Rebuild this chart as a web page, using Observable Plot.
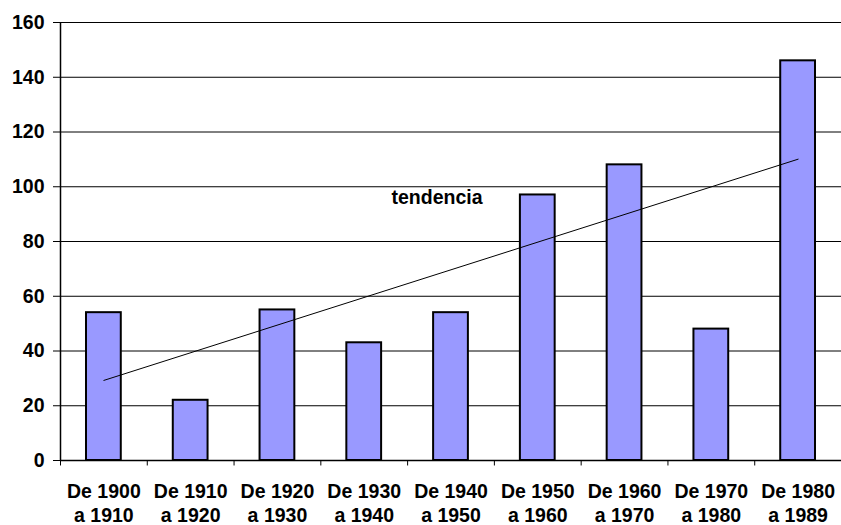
<!DOCTYPE html>
<html>
<head>
<meta charset="utf-8">
<script src="https://cdn.jsdelivr.net/npm/d3@7"></script>
<script src="https://cdn.jsdelivr.net/npm/@observablehq/plot@0.6"></script>
<style>
  body { margin: 0; background: #fff; }
  svg { display: block; }
</style>
</head>
<body>
<div id="chart"></div>
<script>
const categories = [
  "De 1900\na 1910", "De 1910\na 1920", "De 1920\na 1930",
  "De 1930\na 1940", "De 1940\na 1950", "De 1950\na 1960",
  "De 1960\na 1970", "De 1970\na 1980", "De 1980\na 1989"
];
const values = [54, 22, 55, 43, 54, 97, 108, 48, 146];
const yTicks = [0, 20, 40, 60, 80, 100, 120, 140, 160];
const trendLabel = "tendencia";

const data = categories.map((c, i) => ({cat: c, v: values[i]}));

// linear trend (least squares) over category index
const idx = values.map((_, i) => i + 1);
const mx = d3.mean(idx), my = d3.mean(values);
const slope = d3.sum(idx, (x, i) => (x - mx) * (values[i] - my)) / d3.sum(idx, x => (x - mx) ** 2);
const intercept = my - slope * mx;
const trend = [
  {cat: categories[0], v: intercept + slope * 1},
  {cat: categories[categories.length - 1], v: intercept + slope * categories.length}
];

const W = 841, H = 525, ML = 60, MR = 0;
const step = (W - ML - MR) / categories.length;

const chart = Plot.plot({
  width: W,
  height: H,
  marginLeft: ML,
  marginRight: MR,
  marginTop: 22,
  marginBottom: 65,
  style: {fontFamily: "'Liberation Sans', Arial, sans-serif", fontWeight: "bold", fontSize: "19px", color: "#000", background: "#fff"},
  x: {domain: categories, padding: 0, round: false, label: null},
  y: {domain: [0, 160], ticks: yTicks, label: null},
  marks: [
    Plot.ruleY(yTicks.filter(t => t > 0), {stroke: "#000", strokeWidth: 1}),
    Plot.barY(data, {x: "cat", y: "v", fill: "#9999ff", stroke: "#000", strokeWidth: 2, insetLeft: 26, insetRight: 26}),
    Plot.line(trend, {x: "cat", y: "v", stroke: "#000", strokeWidth: 1}),
    Plot.text([trendLabel], {x: () => categories[4], y: () => 95.9, text: d => d, dx: -14, fontSize: 19.5, fontWeight: "bold", fill: "#000"}),
    Plot.ruleY([0], {stroke: "#000", strokeWidth: 1.5}),
    Plot.ruleX([categories[0]], {dx: -step / 2, y1: 0, y2: 160, stroke: "#000", strokeWidth: 1.5}),
    Plot.ruleX(categories, {dx: -step / 2, y1: 0, y2: -2, stroke: "#000", strokeWidth: 1}),
    Plot.axisY({ticks: yTicks, tickSize: 7, tickPadding: 9, fontSize: 19.5, fontWeight: "bold", label: null}),
    Plot.axisX({tickSize: 0, tickPadding: 21, fontSize: 19.5, fontWeight: "bold", lineHeight: 1.22, label: null})
  ]
});
document.getElementById("chart").appendChild(chart);
</script>
</body>
</html>
